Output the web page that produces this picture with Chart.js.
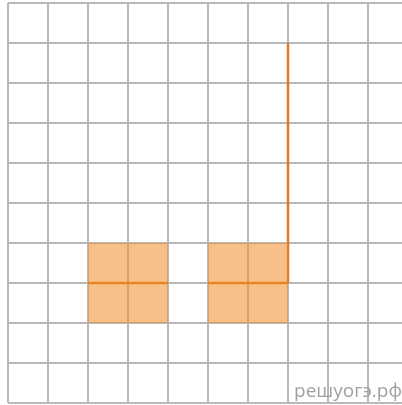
<!DOCTYPE html>
<html>
<head>
<meta charset="utf-8">
<script src="https://cdn.jsdelivr.net/npm/chart.js@4"></script>
<style>
  html, body { margin: 0; padding: 0; background: #fff; overflow: hidden; }
  #wrap { width: 402px; height: 405px; }
</style>
</head>
<body>
<div id="wrap"><canvas id="gridChart"></canvas></div>
<script>
// grid cells, 1 unit = one square
var squareX = [[2, 4], [5, 7]];   // left/right edge of each shaded square
var squareY = [2, 4];             // bottom/top edge of the shaded squares
var midLineY = 3;                 // orange line through the middle of each square
var riseX = 7;                    // vertical orange line
var riseY = [3, 9];
var gridX = [0, 1, 2, 3, 4, 5, 6, 7, 8, 9];
var gridY = [0, 1, 2, 3, 4, 5, 6, 7, 8, 9, 10];

var fillColor = 'rgba(240,140,40,0.55)';
var lineColor = '#e07b20';

var datasets = [];
squareX.forEach(function (sx) {
    datasets.push({
        data: [
            {x: sx[0], y: squareY[0]}, {x: sx[1], y: squareY[0]},
            {x: sx[1], y: squareY[1]}, {x: sx[0], y: squareY[1]},
            {x: sx[0], y: squareY[0]}
        ],
        showLine: true,
        fill: 'shape',
        backgroundColor: fillColor,
        borderColor: 'transparent',
        pointRadius: 0,
        tension: 0
    });
});
squareX.forEach(function (sx) {
    datasets.push({
        data: [{x: sx[0], y: midLineY}, {x: sx[1], y: midLineY}],
        showLine: true,
        borderColor: lineColor,
        borderWidth: 2.5,
        pointRadius: 0
    });
});
datasets.push({
    data: [{x: riseX, y: riseY[0]}, {x: riseX, y: riseY[1]}],
    showLine: true,
    borderColor: lineColor,
    borderWidth: 2.5,
    pointRadius: 0
});

var watermark = {
    id: 'watermark',
    afterDraw: function (chart) {
        var ctx = chart.ctx;
        ctx.save();
        ctx.font = '19px "Open Sans"';
        ctx.fillStyle = '#a0a0a0';
        ctx.textAlign = 'right';
        ctx.textBaseline = 'alphabetic';
        ctx.fillText('решуогэ.рф', 402, 397);
        ctx.restore();
    }
};

function fixTicks(list) {
    return function (scale) {
        scale.ticks = list.map(function (v) { return {value: v}; });
    };
}

var gridChart = new Chart(document.getElementById('gridChart'), {
    type: 'scatter',
    data: { datasets: datasets },
    options: {
        responsive: true,
        maintainAspectRatio: false,
        animation: false,
        layout: { padding: { left: 8, top: 3, right: 0, bottom: 2 } },
        plugins: { legend: { display: false }, tooltip: { enabled: false } },
        scales: {
            x: {
                type: 'linear', min: 0, max: 9.85,
                afterBuildTicks: fixTicks(gridX),
                grid: { color: '#b8b8b8', lineWidth: 2, drawTicks: false },
                border: { display: false },
                ticks: { display: false }
            },
            y: {
                type: 'linear', min: 0, max: 10,
                afterBuildTicks: fixTicks(gridY),
                grid: { color: '#b8b8b8', lineWidth: 2, drawTicks: false },
                border: { display: false },
                ticks: { display: false }
            }
        }
    },
    plugins: [watermark]
});
</script>
</body>
</html>
